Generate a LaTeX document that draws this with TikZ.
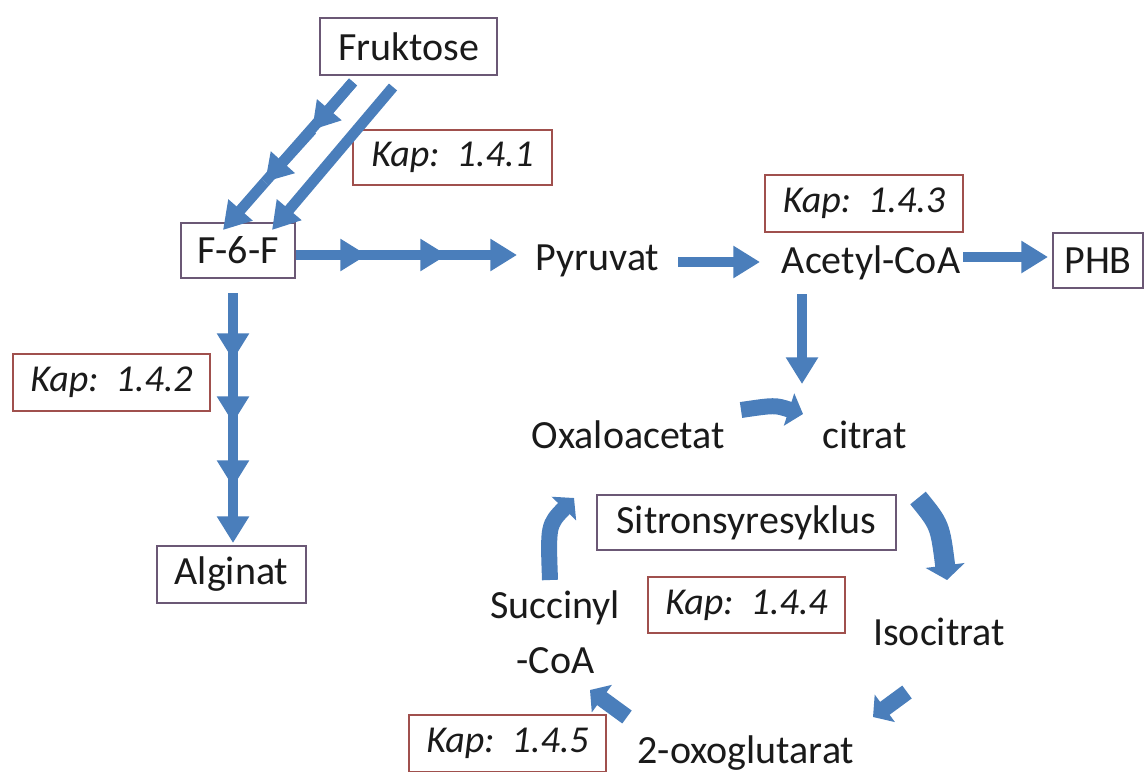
\documentclass[tikz,border=0pt]{standalone}
\usepackage{fontspec}
\setmainfont{Carlito}
\usetikzlibrary{arrows.meta}
\definecolor{flowblue}{HTML}{4A7EBB}
\definecolor{boxedge}{HTML}{6B5875}
\definecolor{kapedge}{HTML}{A0504D}
\definecolor{txtcol}{HTML}{1A1A1A}
\begin{document}
\begin{tikzpicture}[x=0.75pt,y=-0.75pt,
  every node/.style={font=\fontsize{30}{34}\selectfont, text=txtcol, inner sep=0pt},
  box/.style={draw=boxedge, line width=0.9pt},
  kap/.style={draw=kapedge, line width=0.9pt, font=\fontsize{28.5}{32}\selectfont\itshape},
  lbl/.style={anchor=base},
  flowline/.style={draw=flowblue, line width=8pt},
  flow/.style={draw=flowblue, line width=8pt, -{Triangle[width=23pt,length=20pt]}},
  blk/.style={draw=flowblue, line width=12pt, -{Triangle[width=25pt,length=11pt]}},
  blkwide/.style={draw=flowblue, line width=15pt, -{Triangle[width=29pt,length=11pt]}}
]
\useasboundingbox (0,0) rectangle (1145,771);

% boxed nodes
\node[box, minimum width=132.75pt, minimum height=42.75pt] (fruk) at (408.5,46.5) {Fruktose};
\node[kap, minimum width=149.25pt, minimum height=41.25pt] (kap1) at (452.5,157.5) {Kap:\hspace{0.45em}1.4.1};
\node[box, minimum width=85.5pt, minimum height=41.25pt] (f6f) at (238,250.5) {F-6-F};
\node[kap, minimum width=147.75pt, minimum height=42.75pt] (kap2) at (111.5,382.5) {Kap:\hspace{0.45em}1.4.2};
\node[box, minimum width=111.75pt, minimum height=42.75pt] (alg) at (231.5,574.5) {Alginat};
\node[kap, minimum width=148.5pt, minimum height=42.75pt] (kap3) at (864,203.5) {Kap:\hspace{0.45em}1.4.3};
\node[box, minimum width=67.5pt, minimum height=41.25pt] (phb) at (1098,260.5) {PHB};
\node[box, minimum width=224.25pt, minimum height=41.25pt] (sit) at (746.5,522.5) {Sitronsyresyklus};
\node[kap, minimum width=147.75pt, minimum height=42pt] (kap4) at (746.5,605) {Kap:\hspace{0.45em}1.4.4};
\node[kap, minimum width=147.75pt, minimum height=42.75pt] (kap5) at (507.5,743.5) {Kap:\hspace{0.45em}1.4.5};

% plain text nodes
\node[lbl] (pyr) at (597.5,270) {Pyruvat};
\node[lbl] (acet) at (871,273) {Acetyl-CoA};
\node[lbl] (oxal) at (628.5,448) {Oxaloacetat};
\node[lbl] (citr) at (864.5,448) {citrat};
\node[lbl] (succ) at (555,618) {Succinyl};
\node[lbl] (scoa) at (555.5,673) {-CoA};
\node[lbl] (iso) at (939,645) {Isocitrat};
\node[lbl] (oxo) at (746,763) {2-oxoglutarat};

% Fruktose -> F-6-F (two arrows)
\coordinate (a1s) at (353,82);
\coordinate (a1m1) at (312,130);
\coordinate (a1m2) at (265,182);
\coordinate (a1e) at (223,230);
\draw[flowline] (a1s) -- (a1m2);
\draw[flow] (a1s) -- (a1m1);
\draw[flow] (a1m1) -- (a1m2);
\draw[flow] (a1m2) -- (a1e);
\coordinate (a2s) at (393,87);
\coordinate (a2e) at (272,230);
\draw[flow] (a2s) -- (a2e);

% F-6-F -> Pyruvat
\coordinate (h0) at (296,255);
\coordinate (h1) at (367,255);
\coordinate (h2) at (447,255);
\coordinate (h3) at (517,255);
\draw[flowline] (h0) -- (h2);
\draw[flow] (h0) -- (h1);
\draw[flow] (h1) -- (h2);
\draw[flow] (h2) -- (h3);

% F-6-F -> Alginat
\coordinate (v0) at (233,293);
\coordinate (v1) at (233,360);
\coordinate (v2) at (233,423);
\coordinate (v3) at (233,487);
\coordinate (v4) at (233,543);
\draw[flowline] (v0) -- (v3);
\draw[flow] (v0) -- (v1);
\draw[flow] (v1) -- (v2);
\draw[flow] (v2) -- (v3);
\draw[flow] (v3) -- (v4);

% Pyruvat -> Acetyl-CoA -> PHB, Acetyl-CoA down
\coordinate (p0) at (678,262);
\coordinate (p1) at (760,262);
\draw[flow] (p0) -- (p1);
\coordinate (q0) at (963,257);
\coordinate (q1) at (1048,257);
\draw[flow] (q0) -- (q1);
\coordinate (d0) at (802,294);
\coordinate (d1) at (802,384);
\draw[flow] (d0) -- (d1);

% cycle block arrows
\coordinate (t0) at (741,410);
\coordinate (t1) at (803,414);
\draw[blk] (t0) .. controls (775,405) .. (t1);
\coordinate (r0) at (918,498);
\coordinate (r1) at (947,580);
\draw[blkwide] (r0) .. controls (940,525) .. (r1);
\coordinate (l0) at (550,580);
\coordinate (l1) at (574,498);
\draw[blk] (l0) .. controls (548,525) .. (l1);
\coordinate (lr0) at (907,692);
\coordinate (lr1) at (873,717);
\draw[blk] (lr0) -- (lr1);
\coordinate (ll0) at (627,717);
\coordinate (ll1) at (590,690);
\draw[blk] (ll0) -- (ll1);
\end{tikzpicture}
\end{document}
